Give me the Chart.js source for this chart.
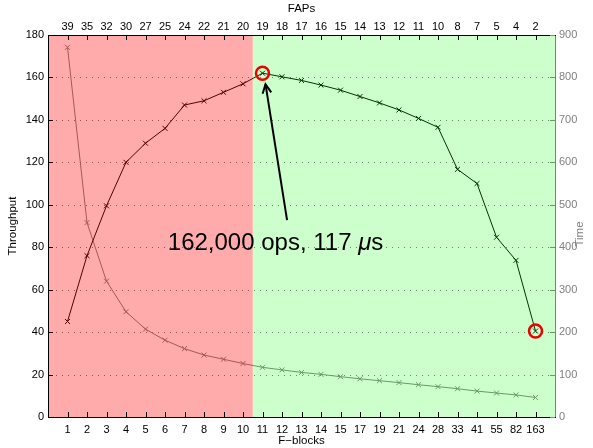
<!DOCTYPE html>
<html lang="en">
<head>
<meta charset="UTF-8">
<title>Throughput vs F-blocks</title>
<script src="https://cdn.jsdelivr.net/npm/chart.js@4.4.0/dist/chart.umd.min.js"></script>
<style>
  body { margin: 0; background: #fff; }
</style>
</head>
<body>
<canvas id="grafica" width="593" height="448"></canvas>
<script>
// datos
const fBlocks = ['1','2','3','4','5','6','7','8','9','10','11','12','13','14','15','17','19','21','24','28','33','41','55','82','163'];
const faps = ['39','35','32','30','27','25','24','22','21','20','19','18','17','16','15','14','13','12','11','10','8','7','5','4','2'];
const throughput = [45, 76, 99.5, 120, 129, 136, 147, 149, 153, 157, 162, 160.3, 158.6, 156.4, 154, 151, 148, 144.7, 140.7, 136.5, 116.7, 110, 84.7, 73.8, 40.5];
const timeUs = [871, 458, 320, 248, 207, 181, 161, 146, 136, 126, 117, 111, 105, 100.5, 95, 90, 85.5, 81, 76, 71.5, 66.7, 61, 56.5, 52, 46];
const leftTicks = [0, 20, 40, 60, 80, 100, 120, 140, 160, 180];
const splitAt = 10.5; // frontera rojo / verde

const font = { family: 'Liberation Sans, Arial, sans-serif', size: 11 };

// fondo, marcas y anotacion
const decor = {
  id: 'decor',
  beforeDatasetsDraw(chart) {
    const { ctx, chartArea: a, scales } = chart;
    ctx.save();
    ctx.strokeStyle = '#777';
    ctx.lineWidth = 1;
    ctx.setLineDash([1, 5]);
    leftTicks.slice(1, -1).forEach(v => {
      const y = Math.round(scales.y.getPixelForValue(v)) + 0.5;
      ctx.beginPath(); ctx.moveTo(a.left + 2, y); ctx.lineTo(a.right, y); ctx.stroke();
    });
    ctx.restore();
  },
  afterDatasetsDraw(chart) {
    const { ctx, chartArea: a, scales } = chart;
    const xs = scales.x.getPixelForValue(splitAt);
    ctx.save();
    ctx.fillStyle = 'rgba(255,0,0,0.33)';
    ctx.fillRect(a.left, a.top, xs - a.left, a.bottom - a.top);
    ctx.fillStyle = 'rgba(0,255,0,0.2)';
    ctx.fillRect(xs, a.top, a.right - xs, a.bottom - a.top);
    ctx.restore();
  },
  afterDraw(chart) {
    const { ctx, chartArea: a, scales } = chart;
    const sx = scales.x, sy = scales.y, sy2 = scales.y2;
    ctx.save();
    // ticks hacia adentro
    ctx.lineWidth = 1;
    ctx.strokeStyle = '#000';
    fBlocks.forEach((_, i) => {
      const x = Math.round(sx.getPixelForValue(i + 1)) + 0.5;
      ctx.beginPath();
      ctx.moveTo(x, a.bottom); ctx.lineTo(x, a.bottom - 5);
      ctx.moveTo(x, a.top); ctx.lineTo(x, a.top + 5);
      ctx.stroke();
    });
    leftTicks.forEach(v => {
      const y = Math.round(sy.getPixelForValue(v)) + 0.5;
      ctx.beginPath(); ctx.moveTo(a.left, y); ctx.lineTo(a.left + 5, y); ctx.stroke();
    });
    ctx.strokeStyle = '#669966';
    sy2.ticks.forEach(t => {
      const y = Math.round(sy2.getPixelForValue(t.value)) + 0.5;
      ctx.beginPath(); ctx.moveTo(a.right, y); ctx.lineTo(a.right - 5, y); ctx.stroke();
    });
    // titulo eje derecho
    ctx.fillStyle = '#808080';
    ctx.font = '11.5px Liberation Sans, Arial, sans-serif';
    ctx.textAlign = 'center';
    ctx.textBaseline = 'middle';
    ctx.translate(580, 234);
    ctx.rotate(-Math.PI / 2);
    ctx.fillText('Time', 0, 0);
    ctx.restore();

    // circulos rojos
    ctx.save();
    ctx.strokeStyle = '#ee0000';
    ctx.lineWidth = 2.5;
    [10, 24].forEach(i => {
      const px = sx.getPixelForValue(i + 1), py = sy.getPixelForValue(throughput[i]);
      ctx.beginPath(); ctx.arc(px, py, 6.5, 0, Math.PI * 2); ctx.stroke();
    });
    // flecha
    const tipX = sx.getPixelForValue(11) + 3, tipY = sy.getPixelForValue(throughput[10]) + 11;
    const tailX = sx.getPixelForValue(12.26), tailY = sy.getPixelForValue(92.8);
    ctx.strokeStyle = '#000';
    ctx.lineWidth = 2;
    ctx.beginPath(); ctx.moveTo(tailX, tailY); ctx.lineTo(tipX, tipY); ctx.stroke();
    const ang = Math.atan2(tipY - tailY, tipX - tailX);
    ctx.beginPath();
    ctx.moveTo(tipX - 10 * Math.cos(ang - 0.45), tipY - 10 * Math.sin(ang - 0.45));
    ctx.lineTo(tipX, tipY);
    ctx.lineTo(tipX - 10 * Math.cos(ang + 0.45), tipY - 10 * Math.sin(ang + 0.45));
    ctx.stroke();
    // texto
    const normal = '24px Liberation Sans, Arial, sans-serif';
    const italic = 'italic 24px Liberation Sans, Arial, sans-serif';
    const p1 = '162,000 ops, 117 ', p2 = '\u03bc', p3 = 's';
    ctx.fillStyle = '#000';
    ctx.textBaseline = 'alphabetic';
    ctx.textAlign = 'left';
    ctx.font = normal; const w1 = ctx.measureText(p1).width, w3 = ctx.measureText(p3).width;
    ctx.font = italic; const w2 = ctx.measureText(p2).width;
    const cx = sx.getPixelForValue(11.67), by = sy.getPixelForValue(78.7);
    let x0 = cx - (w1 + w2 + w3) / 2;
    ctx.font = normal; ctx.fillText(p1, x0, by);
    ctx.font = italic; ctx.fillText(p2, x0 + w1, by);
    ctx.font = normal; ctx.fillText(p3, x0 + w1 + w2, by);
    ctx.restore();
  }
};

const ctx = document.getElementById('grafica').getContext('2d');
const myChart = new Chart(ctx, {
  type: 'line',
  data: {
    datasets: [{
      label: 'Throughput',
      data: throughput.map((v, i) => ({ x: i + 1, y: v })),
      yAxisID: 'y',
      borderColor: '#000',
      borderWidth: 1,
      pointStyle: 'crossRot',
      pointRadius: 3.5,
      pointBorderColor: '#000',
      pointBorderWidth: 1,
      tension: 0
    }, {
      label: 'Time',
      data: timeUs.map((v, i) => ({ x: i + 1, y: v })),
      yAxisID: 'y2',
      borderColor: '#808080',
      borderWidth: 1,
      pointStyle: 'crossRot',
      pointRadius: 3.5,
      pointBorderColor: '#808080',
      pointBorderWidth: 1,
      tension: 0
    }]
  },
  options: {
    responsive: false,
    animation: false,
    devicePixelRatio: 1,
    layout: { padding: 0 },
    plugins: { legend: { display: false }, tooltip: { enabled: false } },
    scales: {
      x: {
        type: 'linear', position: 'bottom', min: 0, max: 26,
        afterBuildTicks: s => { s.ticks = fBlocks.map((_, i) => ({ value: i + 1 })); },
        ticks: { autoSkip: false, maxRotation: 0, color: '#000', font, padding: 6.4,
                 callback: v => fBlocks[v - 1] },
        grid: { display: false, drawTicks: false },
        border: { display: true, color: '#000', width: 1, z: 1 },
        title: { display: true, text: 'F\u2212blocks', color: '#000', font: { family: font.family, size: 11.5 }, padding: { top: 0, bottom: 0 } },
        afterFit: s => { s.height = 31; }
      },
      x2: {
        type: 'linear', position: 'top', min: 0, max: 26,
        afterBuildTicks: s => { s.ticks = faps.map((_, i) => ({ value: i + 1 })); },
        ticks: { autoSkip: false, maxRotation: 0, color: '#000', font, padding: 1.5,
                 callback: v => faps[v - 1] },
        grid: { display: false, drawTicks: false },
        border: { display: true, color: '#000', width: 1, z: 1 },
        title: { display: true, text: 'FAPs', color: '#000', font: { family: font.family, size: 11.5 }, padding: { top: 1.5, bottom: 0 } },
        afterFit: s => { s.height = 35; }
      },
      y: {
        position: 'left', min: 0, max: 180,
        afterBuildTicks: s => { s.ticks = leftTicks.map(v => ({ value: v })); },
        ticks: { color: '#000', font, padding: 4 },
        grid: { display: false, drawTicks: false },
        border: { display: true, color: '#000', width: 1, z: 1 },
        title: { display: true, text: 'Throughput', color: '#000', font: { family: font.family, size: 11.5 }, padding: { top: 5.6, bottom: 0 } },
        afterFit: s => { s.width = 48; }
      },
      y2: {
        position: 'right', min: 0, max: 900,
        ticks: { stepSize: 100, color: '#808080', font, padding: 4 },
        grid: { display: false, drawTicks: false },
        border: { display: true, color: '#808080', width: 1 },
        afterFit: s => { s.width = 38; }
      }
    }
  },
  plugins: [decor]
});
</script>
</body>
</html>
